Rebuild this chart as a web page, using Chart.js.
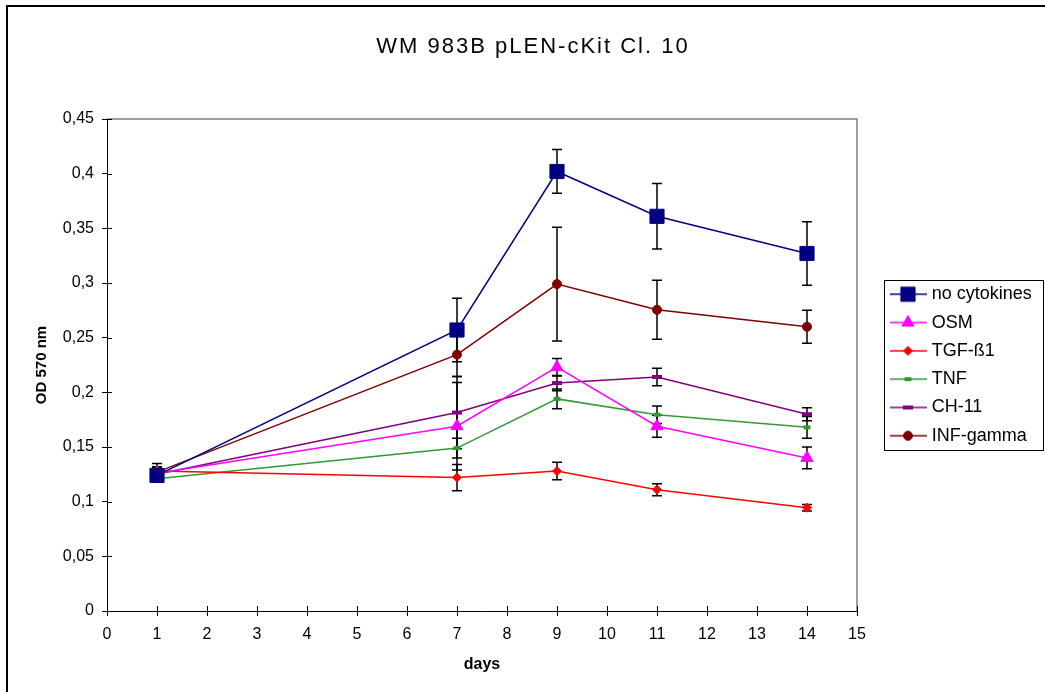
<!DOCTYPE html>
<html lang="en">
<head>
<meta charset="UTF-8">
<title>WM 983B pLEN-cKit Cl. 10</title>
<script src="https://cdn.jsdelivr.net/npm/chart.js"></script>
<style>
  html, body { margin: 0; padding: 0; background: #fff; overflow: hidden; }
  #wrap { position: relative; width: 1045px; height: 692px; overflow: hidden; }
  #frame { position: absolute; left: 6px; top: 5px; width: 1100px; height: 800px; border: 2.5px solid #000; }
  canvas { position: absolute; left: 0; top: 0; }
</style>
</head>
<body>
<div id="wrap">
  <div id="frame"></div>
  <canvas id="chart" width="1045" height="692"></canvas>
</div>
<script>
// measured days
const days = [1, 7, 9, 11, 14];

// mean OD 570 nm per series
const noCytokines = [0.124, 0.257, 0.402, 0.361, 0.327];
const osm         = [0.126, 0.169, 0.223, 0.169, 0.140];
const tgfB1       = [0.128, 0.122, 0.128, 0.111, 0.0945];
const tnf         = [0.121, 0.149, 0.194, 0.1795, 0.168];
const ch11        = [0.125, 0.1815, 0.2085, 0.214, 0.180];
const infGamma    = [0.127, 0.2345, 0.299, 0.2755, 0.260];

// error (+/-) per series
const noCytokinesErr = [0.006, 0.029, 0.020, 0.030, 0.029];
const osmErr         = [0.005, 0.040, 0.008, 0.010, 0.010];
const tgfB1Err       = [0.004, 0.012, 0.008, 0.0055, 0.003];
const tnfErr         = [0.003, 0.009, 0.009, 0.008, 0.010];
const ch11Err        = [0.004, 0.033, 0.007, 0.008, 0.006];
const infGammaErr    = [0.008, 0.020, 0.052, 0.027, 0.015];

const yTicks = [0, 0.05, 0.1, 0.15, 0.2, 0.25, 0.3, 0.35, 0.4, 0.45];

const FONT = "'Liberation Sans', Arial, sans-serif";
const LEGEND_FONT = 18;
const LEGEND_PAD = 10.3;

const series = [
  { label: 'no cytokines', data: noCytokines, err: noCytokinesErr, color: '#000080', style: 'rect',     radius: 10,  bw: 1 },
  { label: 'OSM',          data: osm,         err: osmErr,         color: '#FF00FF', style: 'triangle', radius: 7,   bw: 1 },
  { label: 'TGF-ß1',       data: tgfB1,       err: tgfB1Err,       color: '#FF0000', style: 'rectRot',  radius: 4.5, bw: 1 },
  { label: 'TNF',          data: tnf,         err: tnfErr,         color: '#339933', style: 'line',     radius: 3.5, bw: 4 },
  { label: 'CH-11',        data: ch11,        err: ch11Err,        color: '#800080', style: 'line',     radius: 5,   bw: 4 },
  { label: 'INF-gamma',    data: infGamma,    err: infGammaErr,    color: '#800000', style: 'circle',   radius: 4.5, bw: 1 }
];

function legendSample(s) {
  const c = document.createElement('canvas');
  c.width = 64; c.height = 24;
  const g = c.getContext('2d');
  g.strokeStyle = s.color; g.lineWidth = 1.5;
  g.beginPath(); g.moveTo(27, 12); g.lineTo(64, 12); g.stroke();
  g.fillStyle = s.color; g.strokeStyle = s.color; g.lineWidth = s.bw;
  Chart.helpers.drawPoint(g, { pointStyle: s.style, radius: s.radius, borderWidth: s.bw, rotation: 0 }, 45, 12);
  return c;
}

const errorBars = {
  id: 'errorBars',
  beforeLayout(chart) {
    const lg = chart.legend;
    if (lg && !lg._fixed) {
      const fit = lg.fit;
      lg.fit = function () { fit.call(this); this.width = 188; };
      lg._fixed = true;
    }
    const tb = chart.titleBlock;
    if (tb && !tb._spaced) {
      const draw = tb.draw;
      tb.draw = function (a) { const c = this.ctx; c.save(); c.letterSpacing = '2px'; draw.call(this, a); c.restore(); };
      tb._spaced = true;
    }
  },
  beforeDatasetsDraw(chart) {
    const { ctx, chartArea: a, scales: { x, y } } = chart;
    ctx.save();
    // plot frame top/right
    ctx.strokeStyle = '#808080'; ctx.lineWidth = 1.5;
    ctx.beginPath(); ctx.moveTo(a.left, a.top); ctx.lineTo(a.right, a.top); ctx.lineTo(a.right, a.bottom); ctx.stroke();
    // inner tick marks
    ctx.strokeStyle = '#000'; ctx.lineWidth = 1;
    ctx.beginPath();
    y.ticks.forEach(t => { const py = Math.round(y.getPixelForValue(t.value)) + 0.5; ctx.moveTo(a.left, py); ctx.lineTo(a.left + 5, py); });
    x.ticks.forEach(t => { const px = Math.round(x.getPixelForValue(t.value)) + 0.5; ctx.moveTo(px, a.bottom); ctx.lineTo(px, a.bottom - 5); });
    ctx.stroke();
    // error bars
    ctx.lineWidth = 1.5;
    series.forEach(s => {
      s.data.forEach((v, j) => {
        const px = x.getPixelForValue(days[j]);
        const t = y.getPixelForValue(v + s.err[j]);
        const b = y.getPixelForValue(v - s.err[j]);
        ctx.beginPath();
        ctx.moveTo(px, t); ctx.lineTo(px, b);
        ctx.moveTo(px - 5, t); ctx.lineTo(px + 5, t);
        ctx.moveTo(px - 5, b); ctx.lineTo(px + 5, b);
        ctx.stroke();
      });
    });
    ctx.restore();
  },
  afterDraw(chart) {
    const lg = chart.legend, ctx = chart.ctx;
    const colH = series.length * (LEGEND_FONT + LEGEND_PAD);
    const y0 = (lg.top + LEGEND_PAD + lg.bottom - colH) / 2;
    const top = Math.round(y0 + LEGEND_FONT / 2 - 14) + 0.5;
    const bottom = Math.round(y0 + (series.length - 1) * (LEGEND_FONT + LEGEND_PAD) + LEGEND_FONT / 2 + 14) + 0.5;
    ctx.save();
    ctx.strokeStyle = '#000'; ctx.lineWidth = 1;
    ctx.strokeRect(Math.round(lg.left + 27) + 0.5, top, chart.width - Math.round(lg.left + 27) - 2, bottom - top);
    ctx.restore();
  }
};

const samples = series.map(legendSample);

new Chart(document.getElementById('chart'), {
  type: 'line',
  data: {
    datasets: series.map(s => ({
      label: s.label,
      data: days.map((d, i) => ({ x: d, y: s.data[i] })),
      borderColor: s.color,
      backgroundColor: s.color,
      borderWidth: 1.5,
      tension: 0,
      fill: false,
      pointStyle: s.style,
      pointRadius: s.radius,
      pointHoverRadius: s.radius,
      pointBackgroundColor: s.color,
      pointBorderColor: s.color,
      pointBorderWidth: s.bw
    }))
  },
  options: {
    responsive: false,
    animation: false,
    layout: { padding: { left: 21, top: 0, right: 0, bottom: 0 } },
    scales: {
      x: {
        type: 'linear', min: 0, max: 15,
        ticks: { stepSize: 1, color: '#000', padding: 9, font: { family: FONT, size: 16 } },
        grid: { drawOnChartArea: false, color: '#000', tickLength: 5 },
        border: { color: '#000', width: 1 },
        title: { display: true, text: 'days', color: '#000', padding: { top: 18, bottom: 18 }, font: { family: FONT, size: 16, weight: 'bold' } },
        afterFit: s => { s.height = 81; }
      },
      y: {
        min: 0, max: 0.45,
        afterBuildTicks: s => { s.ticks = yTicks.map(v => ({ value: v })); },
        ticks: {
          color: '#000', padding: 8, font: { family: FONT, size: 16 },
          callback: v => String(Number(v.toFixed(2))).replace('.', ',')
        },
        grid: { drawOnChartArea: false, color: '#000', tickLength: 5 },
        border: { color: '#000', width: 1 },
        title: { display: true, text: 'OD 570 nm', color: '#000', padding: { top: 12, bottom: 12 }, font: { family: FONT, size: 15, weight: 'bold' } },
        afterFit: s => { s.width = 86; }
      }
    },
    plugins: {
      title: {
        display: true,
        text: 'WM 983B pLEN-cKit Cl. 10',
        color: '#000',
        font: { family: FONT, size: 22, weight: 'normal' },
        padding: { top: 34, bottom: 58.6 }
      },
      legend: {
        position: 'right',
        align: 'center',
        fullSize: false,
        labels: {
          usePointStyle: true,
          pointStyleWidth: 55.4,
          padding: LEGEND_PAD,
          color: '#000',
          font: { family: FONT, size: LEGEND_FONT },
          generateLabels: chart => series.map((s, i) => ({
            text: s.label,
            datasetIndex: i,
            pointStyle: samples[i],
            fillStyle: s.color,
            strokeStyle: s.color,
            lineWidth: 0,
            fontColor: '#000',
            hidden: false
          }))
        }
      },
      tooltip: { enabled: false }
    }
  },
  plugins: [errorBars]
});
</script>
</body>
</html>
